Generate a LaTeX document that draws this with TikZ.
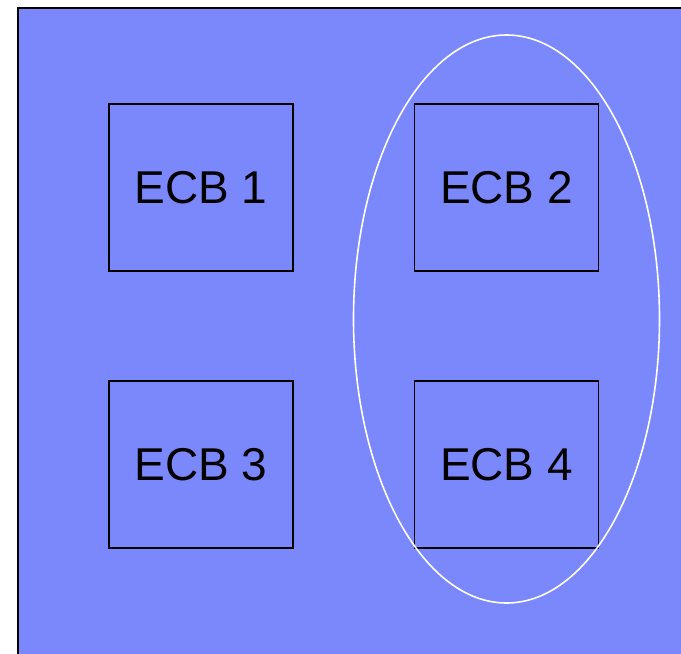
\documentclass[tikz,border=0pt]{standalone}
\usepackage{fontspec}
\setmainfont{Liberation Sans}
\definecolor{panelblue}{RGB}{122,136,251}
\begin{document}
\begin{tikzpicture}[x=1pt,y=-1pt,
  ecb/.style={draw=black, line width=1.3pt, minimum width=184pt, minimum height=167pt,
    inner sep=0pt, font=\fontsize{46}{50}\selectfont}]
\useasboundingbox (0,0) rectangle (681,654);
% blue panel with black top and left edges
\fill[panelblue] (18,8) rectangle (690,660);
\draw[black, line width=2.2pt] (18,660) -- (18,8) -- (690,8);
% ECB blocks
\node[ecb] (e1) at (201,187.5) {ECB 1};
\node[ecb] (e2) at (506.5,187.5) {ECB 2};
\node[ecb] (e3) at (201,464.5) {ECB 3};
\node[ecb] (e4) at (506.5,464.5) {ECB 4};
% grouping ellipse around ECB 2 and ECB 4
\draw[white, line width=1.6pt] (506.5,319) ellipse [x radius=153, y radius=284];
\end{tikzpicture}
\end{document}
